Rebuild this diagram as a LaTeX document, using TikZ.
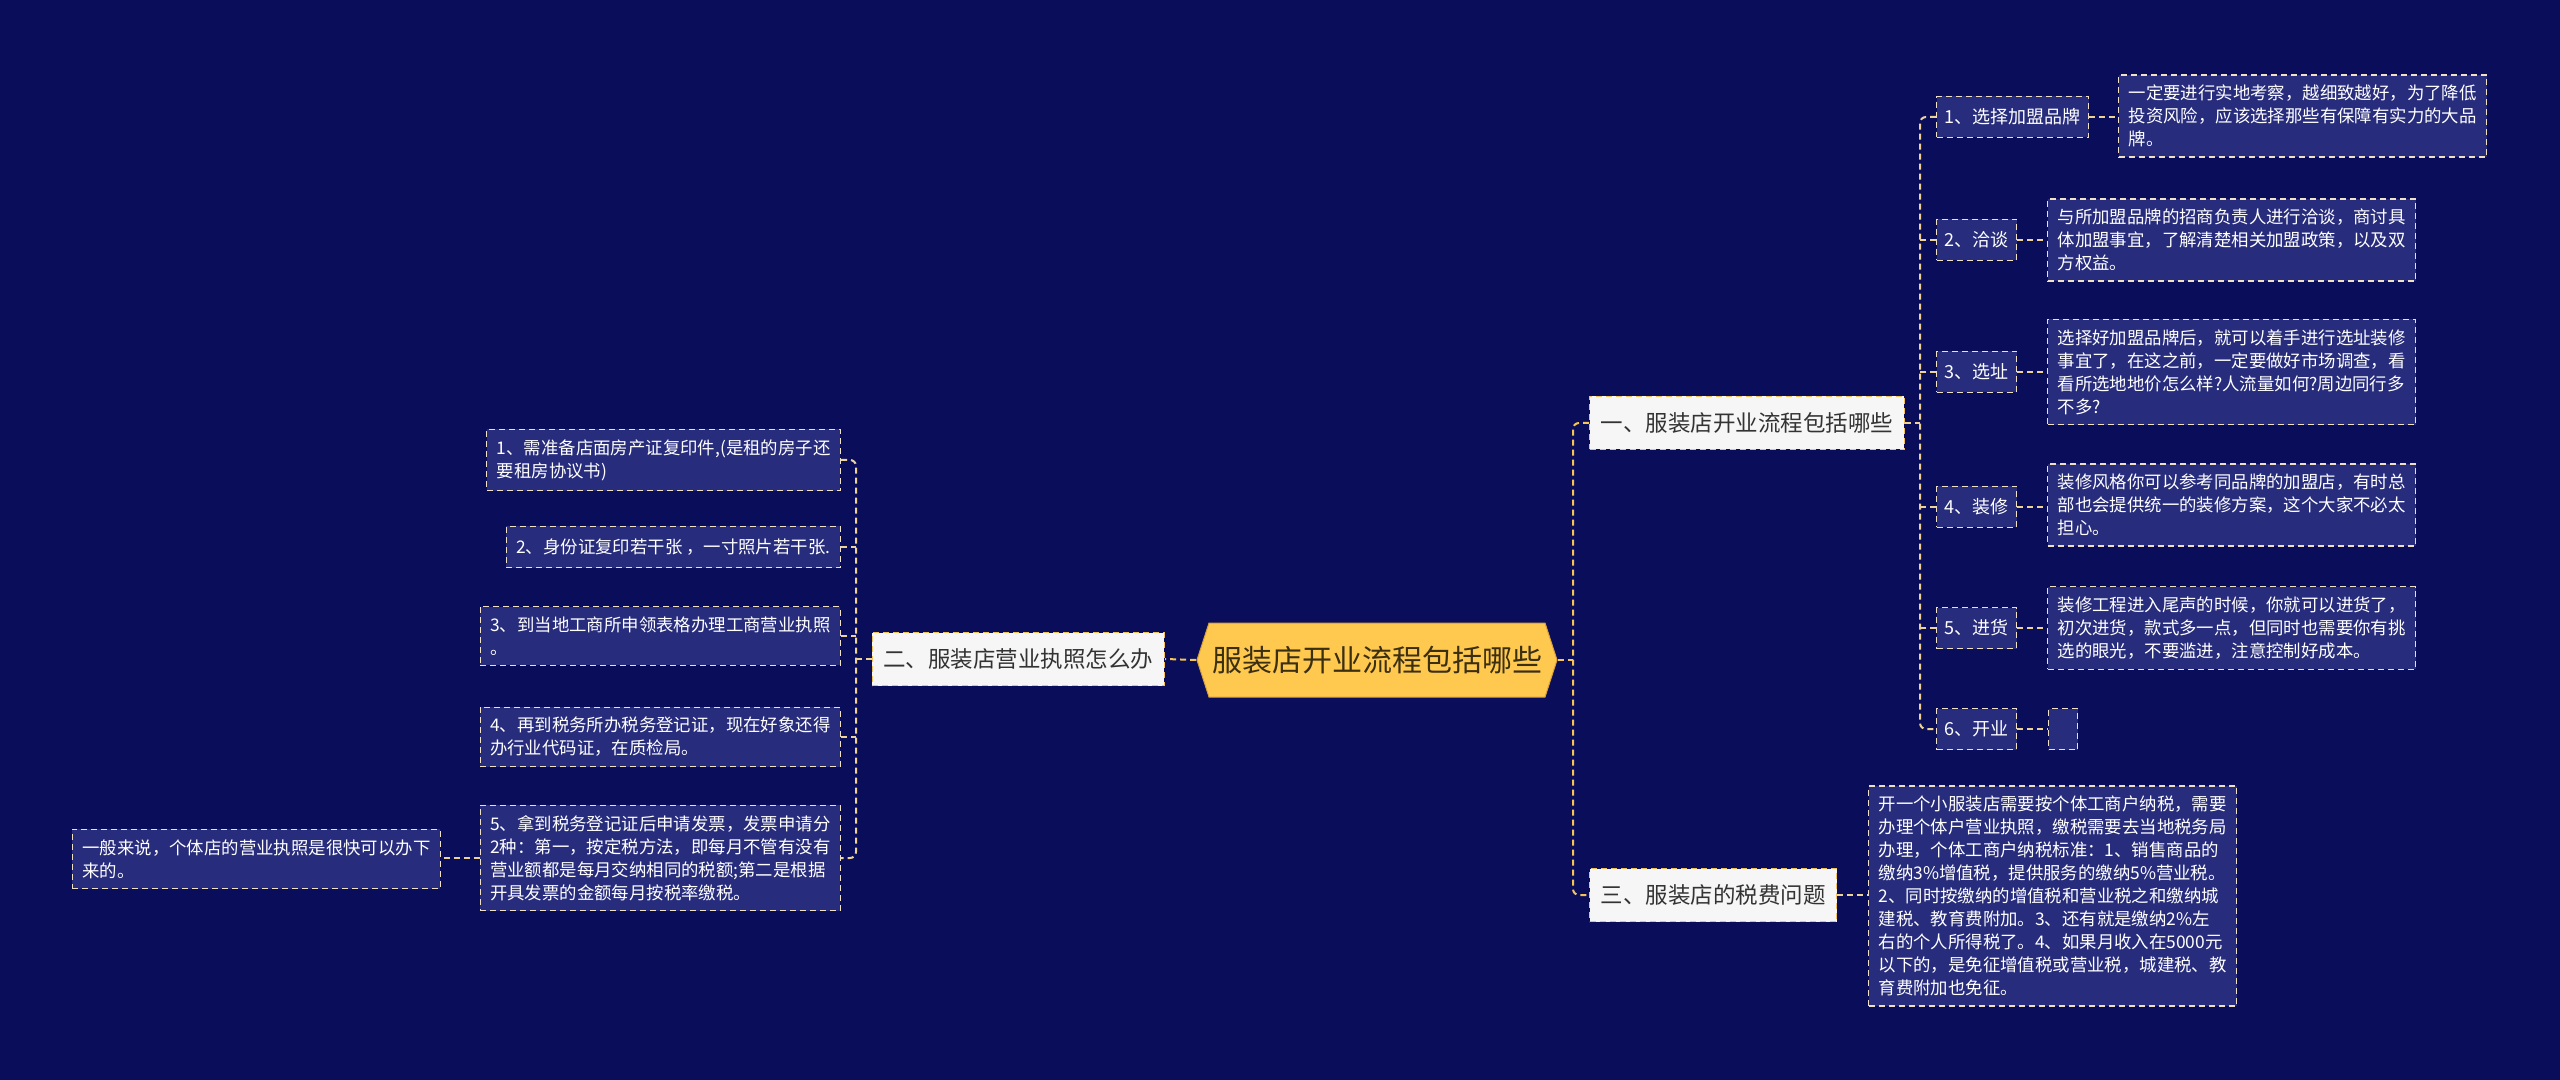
\documentclass[tikz,border=0pt]{standalone}
\usepackage{fontspec}
\setmainfont{Noto Sans CJK SC}
\usetikzlibrary{calc}

\definecolor{bgnavy}{HTML}{0A0E5A}
\definecolor{boxfill}{HTML}{272C7C}
\definecolor{boxedge}{HTML}{F1E1C4}
\definecolor{linkc}{HTML}{EDD296}
\definecolor{rootlinkc}{HTML}{F6C453}
\definecolor{rootfill}{HTML}{FFC94F}
\definecolor{rootedge}{HTML}{D9A13A}
\definecolor{rootink}{HTML}{3B2F12}
\definecolor{topicfill}{HTML}{F6F6F6}
\definecolor{topicedge}{HTML}{F3C25A}
\definecolor{topicink}{HTML}{333333}

\begin{document}
\begin{tikzpicture}[x=0.5pt, y=-0.5pt,
    rootnode/.style={minimum width=180.5pt, minimum height=37pt, inner sep=0pt,
        text=rootink, font=\fontsize{15pt}{18pt}\selectfont},
    topic/.style={draw=topicedge, dash pattern=on 3pt off 2pt, line width=0.7pt,
        fill=topicfill, text=topicink, font=\fontsize{11.25pt}{13pt}\selectfont,
        minimum height=26.5pt, inner xsep=5.5pt, inner ysep=0pt},
    item/.style={draw=boxedge, dash pattern=on 3pt off 2pt, line width=0.6pt,
        fill=boxfill, text=white, font=\fontsize{9pt}{11.5pt}\selectfont,
        minimum height=20.5pt, inner xsep=4pt, inner ysep=0pt},
    note/.style={item, align=left, inner xsep=5pt, inner ysep=5pt,
        font=\fontsize{8.7pt}{11.5pt}\selectfont},
    link/.style={draw=linkc, line width=1pt, dash pattern=on 3pt off 2pt},
    rootlink/.style={link, draw=rootlinkc}
]

    % 背景
    \fill[bgnavy] (0,0) rectangle (2560,1080);
    \useasboundingbox (0,0) rectangle (2560,1080);

    % 中心の六角形
    \coordinate (R) at (1377,660);
    \filldraw[fill=rootfill, draw=rootedge, line width=0.5pt]
        ($(R)+(-180,0)$) -- ($(R)+(-168,-37)$) -- ($(R)+(168,-37)$)
        -- ($(R)+(180,0)$) -- ($(R)+(168,37)$) -- ($(R)+(-168,37)$) -- cycle;
    \node[rootnode] (root) at (R) {服装店开业流程包括哪些};

    % 第一階層
    \node[topic, anchor=west] (t1) at (1589,423) {一、服装店开业流程包括哪些};
    \node[topic, anchor=east] (t2) at (1165,659) {二、服装店营业执照怎么办};
    \node[topic, anchor=west] (t3) at (1589,895) {三、服装店的税费问题};

    % 一の子ノード
    \node[item, anchor=west] (s1) at (1936,117) {1、选择加盟品牌};
    \node[item, anchor=west] (s2) at (1936,240) {2、洽谈};
    \node[item, anchor=west] (s3) at (1936,372) {3、选址};
    \node[item, anchor=west] (s4) at (1936,507) {4、装修};
    \node[item, anchor=west] (s5) at (1936,628) {5、进货};
    \node[item, anchor=west] (s6) at (1936,729) {6、开业};

    \node[note, anchor=west] (d1) at (2118,116) {一定要进行实地考察，越细致越好，为了降低\\投资风险，应该选择那些有保障有实力的大品\\牌。};
    \node[note, anchor=west] (d2) at (2047,240) {与所加盟品牌的招商负责人进行洽谈，商讨具\\体加盟事宜，了解清楚相关加盟政策，以及双\\方权益。};
    \node[note, anchor=west] (d3) at (2047,372) {选择好加盟品牌后，就可以着手进行选址装修\\事宜了，在这之前，一定要做好市场调查，看\\看所选地地价怎么样?人流量如何?周边同行多\\不多?};
    \node[note, anchor=west] (d4) at (2047,505) {装修风格你可以参考同品牌的加盟店，有时总\\部也会提供统一的装修方案，这个大家不必太\\担心。};
    \node[note, anchor=west] (d5) at (2047,628) {装修工程进入尾声的时候，你就可以进货了，\\初次进货，款式多一点，但同时也需要你有挑\\选的眼光，不要滥进，注意控制好成本。};
    \node[item, anchor=west, minimum width=14.5pt] (d6) at (2048,729) {};

    % 二の子ノード
    \node[note, anchor=east] (L1) at (841,460) {1、需准备店面房产证复印件,(是租的房子还\\要租房协议书)};
    \node[note, anchor=east] (L2) at (841,547) {2、身份证复印若干张 ，一寸照片若干张.};
    \node[note, anchor=east] (L3) at (841,636) {3、到当地工商所申领表格办理工商营业执照\\。};
    \node[note, anchor=east] (L4) at (841,737) {4、再到税务所办税务登记证，现在好象还得\\办行业代码证，在质检局。};
    \node[note, anchor=east] (L5) at (841,858) {5、拿到税务登记证后申请发票，发票申请分\\2种：第一，按定税方法，即每月不管有没有\\营业额都是每月交纳相同的税额;第二是根据\\开具发票的金额每月按税率缴税。};
    \node[note, anchor=east] (L6) at (441,859) {一般来说，个体店的营业执照是很快可以办下\\来的。};

    % 三の子ノード
    \node[note, anchor=west] (d7) at (1868,896) {开一个小服装店需要按个体工商户纳税，需要\\办理个体户营业执照，缴税需要去当地税务局\\办理，个体工商户纳税标准：1、销售商品的\\缴纳3\%增值税，提供服务的缴纳5\%营业税。\\2、同时按缴纳的增值税和营业税之和缴纳城\\建税、教育费附加。3、还有就是缴纳2\%左\\右的个人所得税了。4、如果月收入在5000元\\以下的，是免征增值税或营业税，城建税、教\\育费附加也免征。};

    % 中心からの線
    \coordinate (b0) at (1573,660);
    \draw[rootlink] (root.east) -- (b0);
    \draw[rootlink, rounded corners=3pt] (t1.west) -| (b0) |- (t3.west);
    \draw[rootlink] (root.west) -- (t2.east);

    % 右側の線
    \coordinate (b1) at (1920,423);
    \draw[link] (t1.east) -- (b1);
    \draw[link, rounded corners=3pt] (s1.west) -| (b1) |- (s6.west);
    \foreach \n in {s2,s3,s4,s5}
        \draw[link] (\n.west) -- (\n.west -| b1);
    \foreach \a/\b in {s1/d1,s2/d2,s3/d3,s4/d4,s5/d5,s6/d6}
        \draw[link] (\a.east) -- (\a.east -| \b.west);
    \draw[link] (t3.east) -- (t3.east -| d7.west);

    % 左側の線
    \coordinate (b2) at (856,659);
    \draw[link] (t2.west) -- (b2);
    \draw[link, rounded corners=3pt] (L1.east) -| (b2) |- (L5.east);
    \foreach \n in {L2,L3,L4}
        \draw[link] (\n.east) -- (\n.east -| b2);
    \draw[link] (L5.west) -- (L5.west -| L6.east);

\end{tikzpicture}
\end{document}
